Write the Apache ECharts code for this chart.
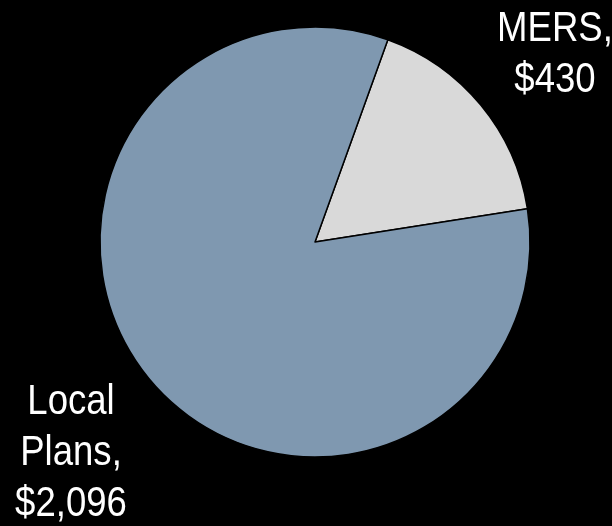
<!DOCTYPE html>
<html>
<head>
<meta charset="utf-8">
<script src="https://cdn.jsdelivr.net/npm/echarts@6/dist/echarts.min.js"></script>
<style>html,body{margin:0;padding:0;background:#000;}#c{width:612px;height:526px;}</style>
</head>
<body>
<div id="c"></div>
<script>
const categories = ["MERS", "Local Plans"];
const values = [430, 2096];
const colors = ["#d9d9d9", "#7f98b0"];
const labelPos = [[555, 55], [71, 453]];

const fmt = (name, v) => name.replace(' ', '\n') + ',\n$' + v.toLocaleString('en-US');

const chart = echarts.init(document.getElementById('c'), null, {renderer: 'canvas'});
chart.setOption({
  backgroundColor: '#000',
  animation: false,
  graphic: categories.map((n, i) => ({
    type: 'text',
    x: labelPos[i][0],
    y: labelPos[i][1],
    scaleX: 0.85,
    z: 10,
    style: {
      text: fmt(n, values[i]),
      fill: '#fff',
      fontFamily: '"Liberation Sans", Arial, sans-serif',
      fontSize: 43,
      lineHeight: 51,
      align: 'center',
      verticalAlign: 'middle'
    }
  })),
  series: [{
    type: 'pie',
    center: [315, 242],
    radius: [0, 215],
    startAngle: 70.2,
    clockwise: true,
    itemStyle: {borderColor: '#000', borderWidth: 1.5},
    label: {show: false},
    labelLine: {show: false},
    data: categories.map((n, i) => ({name: n, value: values[i], itemStyle: {color: colors[i]}}))
  }]
});
</script>
</body>
</html>
